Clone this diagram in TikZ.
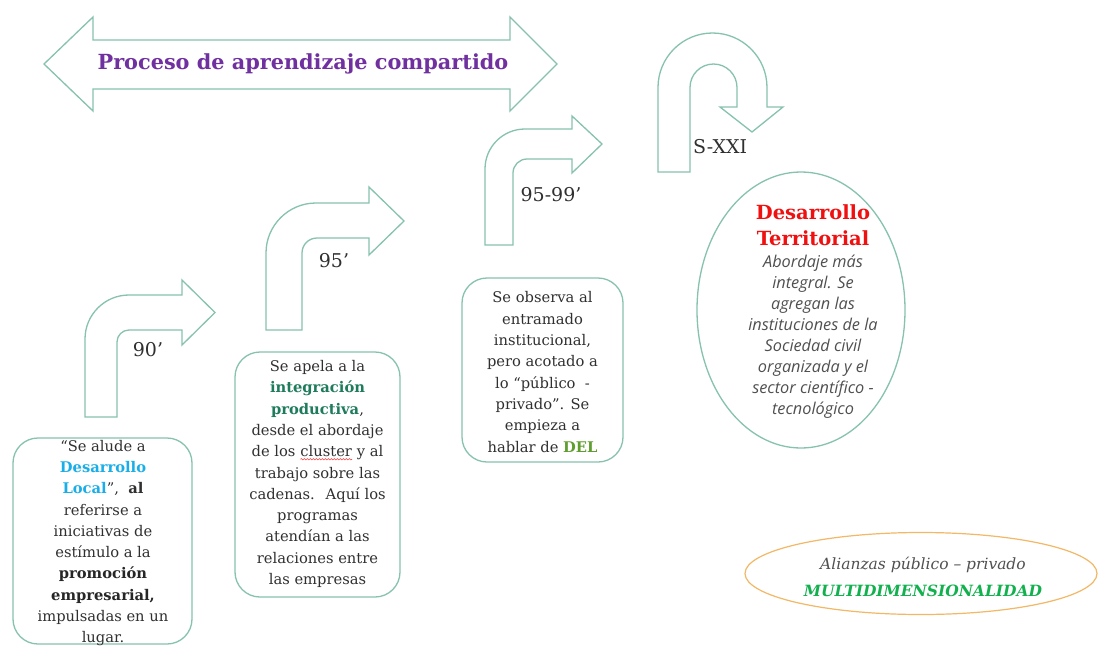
\documentclass[tikz,border=0pt]{standalone}
\usepackage{fontspec}
\setmainfont{DejaVu Serif}
\newfontfamily\itsans{Open Sans}
\usetikzlibrary{shapes.geometric,decorations.pathmorphing}
\definecolor{outl}{HTML}{86C2AE}
\definecolor{txt}{HTML}{303030}
\definecolor{ittxt}{HTML}{505050}
\definecolor{ttlpurple}{HTML}{7030A0}
\definecolor{lblue}{HTML}{1AAEE8}
\definecolor{tealg}{HTML}{1E7B5C}
\definecolor{delg}{HTML}{5E9E2E}
\definecolor{mgreen}{HTML}{12B04E}
\definecolor{tred}{HTML}{F01010}
\definecolor{orng}{HTML}{F2B866}
\newcommand\squig[1]{\tikz[baseline=(sq.base)]{\node[inner sep=0pt,outer sep=0pt] (sq) {#1};\draw[red!85,line width=0.5pt,decorate,decoration={snake,amplitude=0.7pt,segment length=3pt}] ([yshift=-2.5pt]sq.base west) -- ([yshift=-2.5pt]sq.base east);}}
\tikzset{
  blockarrow/.style={draw=outl,line width=1.3pt,fill=white,line join=miter},
  roundbox/.style={draw=outl,line width=1.3pt,rounded corners=25pt,fill=white},
  bodytext/.style={text=txt,align=center,inner sep=0pt,font=\fontsize{14.7}{21.3}\selectfont},
  yearlabel/.style={text=txt,inner sep=0pt,font=\fontsize{19}{22}\selectfont},
}
\begin{document}
\begin{tikzpicture}[x=1pt,y=-1pt]
\useasboundingbox (0,0) rectangle (1101,646);
\fill[white] (0,0) rectangle (1101,646);

% top double arrow
\draw[blockarrow] (44,64) -- (93,17) -- (93,40) -- (510,40) -- (510,17) -- (557,64) -- (510,111) -- (510,89) -- (93,89) -- (93,111) -- cycle;
\node[text=ttlpurple,font=\fontsize{20.8}{24}\selectfont\bfseries,inner sep=0pt] (title) at (303,64) {Proceso de aprendizaje compartido};

% bent arrow 1
\draw[blockarrow] (85,417) -- (85,339) .. controls (85,314.7) and (104.7,295) .. (129,295) -- (182,295) -- (182,280) -- (215,312.5) -- (182,345) -- (182,330) -- (129,330) .. controls (122.4,330) and (117,335.4) .. (117,342) -- (117,417) -- cycle;
\node[yearlabel] (l90) at (148,350) {90’};

% bent arrow 2
\draw[blockarrow] (266,330) -- (266,253) .. controls (266,225.4) and (288.4,203) .. (316,203) -- (369,203) -- (369,187) -- (404,221) -- (369,255) -- (369,238) -- (317,238) .. controls (308.7,238) and (302,244.7) .. (302,253) -- (302,330) -- cycle;
\node[yearlabel] (l95) at (334,261) {95’};

% bent arrow 3
\draw[blockarrow] (485,245) -- (485,169) .. controls (485,146.9) and (502.9,129) .. (525,129) -- (572,129) -- (572,116) -- (602,144) -- (572,173) -- (572,159) -- (527,159) .. controls (519.3,159) and (513,165.3) .. (513,173) -- (513,245) -- cycle;
\node[yearlabel] (l9599) at (551,195) {95-99’};

% U-turn arrow
\draw[blockarrow] (658,172) -- (658,87.5) .. controls (658,57.4) and (682.4,33) .. (712.5,33) .. controls (742.6,33) and (767,57.4) .. (767,87.5) -- (767,107) -- (783,107) -- (752,132) -- (720,107) -- (737,107) -- (737,87.5) .. controls (737,74.5) and (726.5,64) .. (713.5,64) .. controls (700.5,64) and (690,74.5) .. (690,87.5) -- (690,172) -- cycle;
\node[yearlabel,anchor=west] (lsxxi) at (693,147) {S-XXI};

% box 1
\node[roundbox,minimum width=179pt,minimum height=206pt] (b1) at (102.5,541) {};
\node[bodytext] (t1) at (103,543) {“Se alude a\\
{\bfseries\color{lblue}Desarrollo}\\
{\bfseries\color{lblue}Local}”,~ \textbf{al}\\
referirse a\\
iniciativas de\\
estímulo a la\\
{\bfseries\color{black!85}promoción}\\
{\bfseries\color{black!85}empresarial,}\\
impulsadas en un\\
lugar.};

% box 2
\node[roundbox,minimum width=165pt,minimum height=245pt] (b2) at (317.5,474.5) {};
\node[bodytext] (t2) at (317.5,474) {Se apela a la\\
{\bfseries\color{tealg}integración}\\
{\bfseries\color{tealg}productiva},\\
desde el abordaje\\
de los \squig{cluster} y al\\
trabajo sobre las\\
cadenas.~ Aquí los\\
programas\\
atendían a las\\
relaciones entre\\
las empresas};

% box 3
\node[roundbox,minimum width=161pt,minimum height=184pt] (b3) at (542.5,370) {};
\node[bodytext] (t3) at (542.5,372) {Se observa al\\
entramado\\
institucional,\\
pero acotado a\\
lo “público~ -\\
privado”. Se\\
empieza a\\
hablar de {\bfseries\color{delg}DEL}};

% ellipse Desarrollo Territorial
\node[ellipse,draw=outl,line width=1.3pt,fill=white,minimum width=208pt,minimum height=276pt,inner sep=0pt] (e1) at (801,310) {};
\node[text=tred,align=center,inner sep=0pt,font=\fontsize{19.5}{26}\selectfont\bfseries] (dt) at (813,225) {Desarrollo\\ Territorial};
\node[text=ittxt,align=center,inner sep=0pt,font=\fontsize{16.3}{21}\selectfont\itsans\itshape] (dtx) at (813,337) {Abordaje más\\
integral. Se\\
agregan las\\
instituciones de la\\
Sociedad civil\\
organizada y el\\
sector científico -\\
tecnológico};

% bottom ellipse
\node[ellipse,draw=orng,line width=1.2pt,minimum width=352pt,minimum height=82pt,inner sep=0pt] (e2) at (921,573.5) {};
\node[align=center,inner sep=0pt,font=\fontsize{15.5}{27}\selectfont\itshape] (al) at (923,577) {{\color{ittxt}Alianzas público – privado}\\
{\bfseries\color{mgreen}MULTIDIMENSIONALIDAD}};
\end{tikzpicture}
\end{document}
